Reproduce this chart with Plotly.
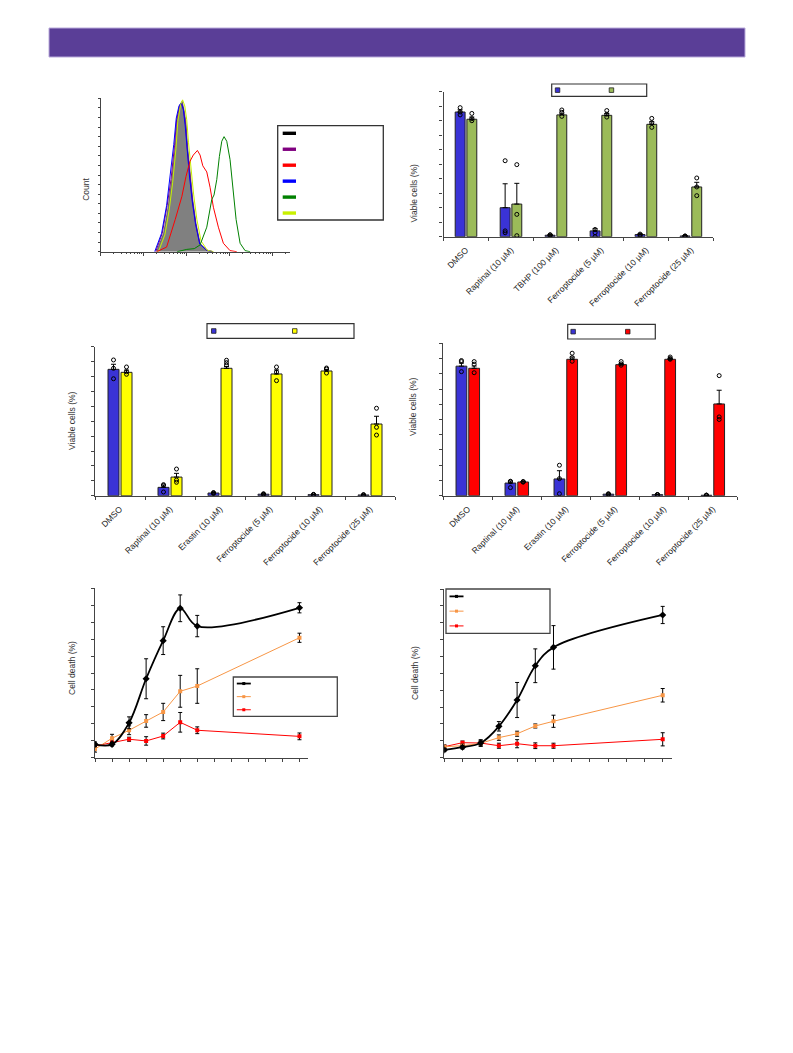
import plotly.graph_objects as go

# ---------------- DATA ----------------
# Panel A: flow cytometry histogram (intensity vs count, % of max)
gray_x = [20, 29, 37, 45, 54, 60, 70, 78, 87, 96, 105, 119, 138, 164, 204, 292, 410]
gray_y = [0, 12, 29, 47, 68, 86, 96, 98, 92, 84, 68, 51, 34, 18.5, 5.5, 0.7, 0]
purple_x = [19, 27, 35, 43, 52, 58, 68, 76, 85, 94, 103, 117, 136, 162, 202, 290, 405]
purple_y = [0, 12, 30, 47, 69, 86, 95, 97, 92, 83, 67, 50, 33, 18, 5, 1, 0]
blue_x = [18, 26, 34, 41, 50, 57, 66, 74, 83, 92, 101, 115, 134, 160, 200, 290, 400]
blue_y = [0, 12, 30, 48, 70, 87, 95, 97, 93, 82, 67, 50, 33, 18, 5, 1, 0]
yellow_x = [22, 31, 39, 47, 56, 62, 72, 80, 90, 100, 110, 125, 145, 172, 215, 300, 420]
yellow_y = [0, 11, 27, 45, 67, 85, 96, 99, 95, 86, 71, 54, 37, 21, 7, 1, 0]
red_x = [20, 34, 54, 77, 96, 119, 142, 177, 204, 236, 292, 348, 416, 543, 710, 1016, 1455]
red_y = [0, 3, 21, 36, 49, 59, 63, 66, 63, 56, 52, 42, 29, 16, 5.5, 0.7, 0]
green_x = [60, 100, 150, 204, 292, 381, 431, 499, 573, 652, 737, 851, 1016, 1175, 1403, 1738, 2270, 2970]
green_y = [0, 1.5, 2, 4.4, 16, 34, 37, 47, 62, 72, 75, 72, 60, 40, 21, 5.5, 0.7, 0]

# Panel B
cats_b = ["DMSO", "Raptinal (10 µM)", "TBHP (100 µM)", "Ferroptocide (5 µM)",
          "Ferroptocide (10 µM)", "Ferroptocide (25 µM)"]
blue_b = [86, 20, 1, 4, 1.5, 0.5]
blue_b_err = [1.5, 16.5, 0.4, 1.5, 0.5, 0.2]
blue_b_pts = [[89, 86, 84], [52.4, 4, 2.7], [1.2, 0.5, 1.3], [5, 2.7, 0], [1.8, 1.2, 0.5], [0.4, 0.5, 0.2]]
green_b = [81, 22.5, 84, 83.7, 77.5, 34.3]
green_b_err = [1.5, 14.3, 1.2, 1.2, 1.8, 3.2]
green_b_pts = [[85, 81.4, 80], [49.7, 15.4, 0.7], [87.4, 85.8, 83], [87, 84.5, 82.5], [81.6, 78.6, 75.4], [40.5, 34.3, 28.3]]

# Panel C
cats_c = ["DMSO", "Raptinal (10 µM)", "Erastin (10 µM)", "Ferroptocide (5 µM)",
          "Ferroptocide (10 µM)", "Ferroptocide (25 µM)"]
blue_c = [84.8, 5.6, 1.8, 1.0, 0.7, 0.5]
blue_c_err = [3.4, 1.6, 0.3, 0.3, 0.2, 0.2]
blue_c_pts = [[91.1, 85.5, 78.5], [7.4, 6.9, 2.5], [2.1, 1.8, 1.5], [1.3, 1.0, 0.8], [0.9, 0.7, 0.5], [0.7, 0.5, 0.3]]
yellow_c = [82.8, 12.5, 85.5, 81.7, 83.7, 48.1]
yellow_c_err = [1.5, 2.5, 1.2, 2.7, 1.1, 5.2]
yellow_c_pts = [[86.4, 83.2, 81.5], [17.9, 10.5, 9], [90.9, 89.3, 87.7], [86.4, 83, 77.2], [85.7, 85, 82.3], [58.7, 45.9, 40.7]]

# Panel D
cats_d = cats_c
blue_d = [85, 8.3, 11, 1, 0.7, 0.3]
blue_d_err = [2, 1.3, 5.4, 0.2, 0.2, 0.1]
blue_d_pts = [[88.7, 88, 81.4], [9.2, 9.5, 5.3], [20, 11.2, 1.3], [1.3, 1.0, 0.8], [0.8, 0.7, 0.5], [0.4, 0.3, 0.2]]
red_d = [83.6, 9, 89.5, 86, 89.5, 60.2]
red_d_err = [1.5, 0.3, 1.5, 0.8, 0.5, 9]
red_d_pts = [[88, 86.3, 80.7], [9.3, 8.9, 9.1], [93.5, 90.6, 88.2], [88, 86.5, 85.6], [91, 90, 89.5], [78.8, 51.7, 50]]

# Panels E and F: time courses
time_h = [0, 1, 2, 3, 4, 5, 6, 12]
black_e = [7.9, 7.9, 20.6, 46.6, 69.1, 88.2, 77.7, 88.5]
black_e_err = [1.4, 1, 3.5, 11.8, 8.2, 7.9, 6.3, 3]
orange_e = [5.1, 11.5, 16.2, 21.7, 27, 39.2, 42.3, 70.8]
orange_e_err = [1.8, 2.3, 2.6, 3.7, 5.1, 9.4, 10.2, 2.7]
red_e = [6.9, 9.1, 10.9, 9.9, 12.8, 20.9, 16.2, 12.6]
red_e_err = [1.5, 1.5, 1.2, 2.5, 1.7, 5.8, 2, 2]

black_f = [4.6, 6.2, 8.7, 18.6, 34.2, 54.5, 65.4, 84.6]
black_f_err = [1, 1, 2, 2.8, 10.4, 10, 12.9, 5.1]
orange_f = [6.5, 7.1, 8.5, 11.9, 14.2, 18.8, 21.6, 37]
orange_f_err = [1, 1, 1.5, 1.6, 1.5, 1.2, 3.6, 4]
red_f = [6.5, 8.9, 8.7, 7.1, 8.3, 7.1, 7.1, 10.9]
red_f_err = [1, 1, 1.2, 1.5, 2.4, 1.7, 1.5, 3.9]

# ---------------- STYLE ----------------
# the page body has an 8 px margin, so the figure is placed at (8, 8)
OFF = 8
W, H = 785, 1045
FONT = "Liberation Sans, Arial, sans-serif"
AX = "#444444"
C_BLUE = "#3a33d6"
C_GREEN = "#9bbb59"
C_YELLOW = "#ffff00"
C_RED = "#ff0000"
C_ORANGE = "#f79646"
TXT = 8.5


def fx(p):
    return (p - OFF) / W


def fy(p):
    return 1 - (p - OFF) / H


fig = go.Figure()
shapes = []
annotations = []


def base_axis(**kw):
    d = dict(showgrid=False, zeroline=False, showline=True, linecolor=AX, linewidth=1.2,
             ticks="outside", tickcolor=AX, ticklen=3, tickwidth=1, showticklabels=False)
    d.update(kw)
    return d


# ---------------- Panel A: histogram ----------------
fig.add_trace(go.Scatter(x=gray_x, y=gray_y, mode="lines", fill="tozeroy", fillcolor="#808080",
                         line=dict(color="#555555", width=0.8), xaxis="x", yaxis="y"))
for xs, ys, col in [(purple_x, purple_y, "#800080"), (blue_x, blue_y, "#0000ff"),
                    (yellow_x, yellow_y, "#c8f000"), (red_x, red_y, "#ff0000"),
                    (green_x, green_y, "#008000")]:
    fig.add_trace(go.Scatter(x=xs, y=ys, mode="lines", line=dict(color=col, width=1),
                             xaxis="x", yaxis="y"))

layout_axes = {}
layout_axes["xaxis"] = base_axis(domain=[fx(100.7), fx(290)], type="log", range=[0, 4.4],
                                 dtick=1, anchor="y", ticklen=3,
                                 minor=dict(ticks="outside", ticklen=1.5, tickcolor=AX, dtick="D1"))
layout_axes["yaxis"] = base_axis(domain=[fy(251.7), fy(98.3)], range=[0, 100], dtick=6.25,
                                 tick0=0, anchor="x", ticklen=2)

# legend box for histogram
shapes.append(dict(type="rect", xref="paper", yref="paper", x0=fx(277.7), x1=fx(383.3),
                   y0=fy(220), y1=fy(125.7), line=dict(color="#333333", width=1.3),
                   fillcolor="white"))
for i, col in enumerate(["#000000", "#800080", "#ff0000", "#0000ff", "#008000", "#c8f000"]):
    yc = 133.3 + i * 15.95
    shapes.append(dict(type="rect", xref="paper", yref="paper", x0=fx(282.7), x1=fx(296),
                       y0=fy(yc + 1.7), y1=fy(yc - 1.7), line=dict(width=0), fillcolor=col))
annotations.append(dict(text="Count", x=fx(78.3), y=fy(176), xref="paper", yref="paper",
                        textangle=-90, showarrow=False,
                        font=dict(size=TXT, color="#333", family=FONT)))


# ---------------- Bar panels ----------------
def bar_panel(n, cats, m1, e1, p1, c1, m2, e2, p2, c2, xdom, ydom, legend_box, sw1, sw2, ylab):
    xa, ya = f"x{n}", f"y{n}"
    idx = list(range(len(cats)))
    off = 0.13
    for sign, m, e, p, c in [(-1, m1, e1, p1, c1), (1, m2, e2, p2, c2)]:
        xs = [i + sign * off for i in idx]
        fig.add_trace(go.Bar(x=xs, y=m, width=0.22, xaxis=xa, yaxis=ya,
                             marker=dict(color=c, line=dict(color="#222222", width=1)),
                             error_y=dict(type="data", symmetric=False, array=e,
                                          arrayminus=[0] * len(e), color="black",
                                          thickness=1, width=2.5)))
        px_ = [i + sign * off for i, pts in zip(idx, p) for _ in pts]
        py_ = [v for pts in p for v in pts]
        fig.add_trace(go.Scatter(x=px_, y=py_, mode="markers", xaxis=xa, yaxis=ya,
                                 marker=dict(symbol="circle-open", size=4, color="black",
                                             line=dict(width=1, color="black"))))
    layout_axes[f"xaxis{n}"] = base_axis(
        domain=[fx(xdom[0]), fx(xdom[1])], range=[-0.5, len(cats) - 0.5], anchor=ya,
        tickmode="array", tickvals=idx, ticktext=cats, ticks="", showticklabels=True,
        tickangle=-45, ticklabelstandoff=4,
        tickfont=dict(size=TXT, color="#222", family=FONT),
        minor=dict(ticks="outside", ticklen=3, tickcolor=AX, tick0=0.5, dtick=1))
    layout_axes[f"yaxis{n}"] = base_axis(domain=[fy(ydom[1]), fy(ydom[0])], range=[0, 100],
                                         dtick=10, anchor=xa)
    bx0, bx1, by0, by1 = legend_box
    shapes.append(dict(type="rect", xref="paper", yref="paper", x0=fx(bx0), x1=fx(bx1),
                       y0=fy(by1), y1=fy(by0), line=dict(color="#333333", width=1.2),
                       fillcolor="white"))
    ym = (by0 + by1) / 2
    for sx, col in [(sw1, c1), (sw2, c2)]:
        shapes.append(dict(type="rect", xref="paper", yref="paper", x0=fx(sx), x1=fx(sx + 4.5),
                           y0=fy(ym + 2.3), y1=fy(ym - 2.3), line=dict(color="#222", width=0.8),
                           fillcolor=col))
    annotations.append(dict(text="Viable cells (%)", x=fx(ylab[0]), y=fy(ylab[1]), xref="paper",
                            yref="paper", textangle=-90, showarrow=False,
                            font=dict(size=TXT, color="#333", family=FONT)))


bar_panel(2, cats_b, blue_b, blue_b_err, blue_b_pts, C_BLUE, green_b, green_b_err, green_b_pts,
          C_GREEN, (443.5, 713.4), (91.7, 236.7), (551.7, 646.7, 84, 96.3), 555.3, 609.2, (413, 162))
bar_panel(3, cats_c, blue_c, blue_c_err, blue_c_pts, C_BLUE, yellow_c, yellow_c_err, yellow_c_pts,
          C_YELLOW, (95, 395), (346.7, 495.7), (207, 354, 323.7, 338.3), 211.5, 292.5, (65, 421))
bar_panel(4, cats_d, blue_d, blue_d_err, blue_d_pts, C_BLUE, red_d, red_d_err, red_d_pts,
          C_RED, (443.3, 737.3), (343.3, 495.7), (567.7, 655.3, 324.3, 339), 570.9, 625.5, (413, 407))


# ---------------- Line panels ----------------
def line_panel(n, bk, bke, og, oge, rd, rde, xdom, ydom, legend_box, ylab):
    xa, ya = f"x{n}", f"y{n}"
    for y, e, col, w, sym, sz, shp in [(rd, rde, C_RED, 1, "square", 4, "linear"),
                                        (og, oge, C_ORANGE, 1, "square", 4, "linear"),
                                        (bk, bke, "black", 1.8, "diamond", 5.5, "spline")]:
        fig.add_trace(go.Scatter(x=time_h, y=y, mode="lines+markers", xaxis=xa, yaxis=ya,
                                 line=dict(color=col, width=w, shape=shp, smoothing=1),
                                 marker=dict(symbol=sym, size=sz, color=col),
                                 error_y=dict(type="data", array=e, color="black",
                                              thickness=1, width=2)))
    layout_axes[f"xaxis{n}"] = base_axis(domain=[fx(xdom[0]), fx(xdom[1])], range=[0, 12.5],
                                         dtick=1, tick0=0, anchor=ya)
    layout_axes[f"yaxis{n}"] = base_axis(domain=[fy(ydom[1]), fy(ydom[0])], range=[0, 100],
                                         dtick=10, anchor=xa)
    bx0, bx1, by0, by1 = legend_box
    shapes.append(dict(type="rect", xref="paper", yref="paper", x0=fx(bx0), x1=fx(bx1),
                       y0=fy(by1), y1=fy(by0), line=dict(color="#444444", width=1.3),
                       fillcolor="white"))
    step = (by1 - by0) / 3
    for i, (col, w) in enumerate([("black", 1.8), (C_ORANGE, 1), (C_RED, 1)]):
        yc = by0 + step * (i + 0.5)
        lx0 = bx0 + 3.5
        shapes.append(dict(type="line", xref="paper", yref="paper", x0=fx(lx0), x1=fx(lx0 + 14),
                           y0=fy(yc), y1=fy(yc), line=dict(color=col, width=w)))
        shapes.append(dict(type="rect", xref="paper", yref="paper", x0=fx(lx0 + 5.5),
                           x1=fx(lx0 + 8.5), y0=fy(yc + 1.5), y1=fy(yc - 1.5),
                           line=dict(width=0), fillcolor=col))
    annotations.append(dict(text="Cell death (%)", x=fx(ylab[0]), y=fy(ylab[1]), xref="paper",
                            yref="paper", textangle=-90, showarrow=False,
                            font=dict(size=TXT, color="#333", family=FONT)))


line_panel(5, black_e, black_e_err, orange_e, orange_e_err, red_e, red_e_err,
           (95, 308), (588.3, 757.7), (233.3, 337.3, 677, 716.3), (65, 668))
line_panel(6, black_f, black_f_err, orange_f, orange_f_err, red_f, red_f_err,
           (444.3, 671.8), (589, 757.7), (446, 550, 589, 633.3), (415, 673))

# banner
shapes.append(dict(type="rect", xref="paper", yref="paper", x0=fx(49), x1=fx(745),
                   y0=fy(57), y1=fy(28), line=dict(color="#b9aadb", width=1),
                   fillcolor="#5a3e97", layer="below"))

fig.update_layout(width=W, height=H, margin=dict(l=0, r=0, t=0, b=0), autosize=False,
                  paper_bgcolor="white", plot_bgcolor="rgba(0,0,0,0)", showlegend=False,
                  barmode="overlay", font=dict(family=FONT, size=TXT, color="#333"),
                  shapes=shapes, annotations=annotations, **layout_axes)

fig.write_html("out.html")
